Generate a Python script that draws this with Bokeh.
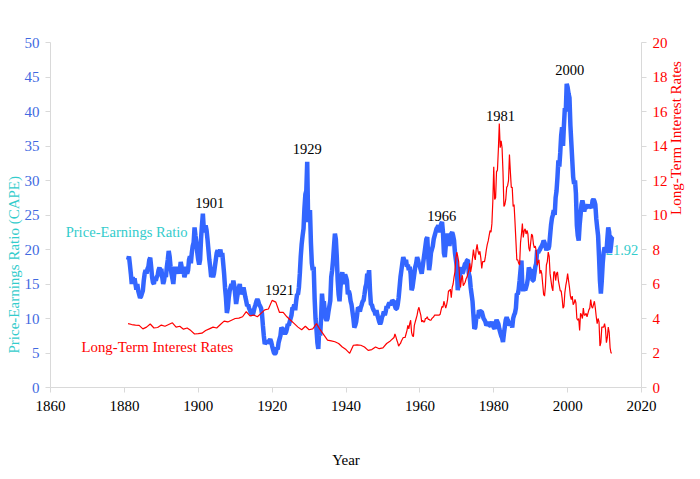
import math
from bokeh.plotting import figure
from bokeh.models import Range1d, LinearAxis, Label, FixedTicker, Title
from bokeh.embed import file_html
from bokeh.resources import INLINE

# ---------------- data ----------------
cape_start = 1881.0  # quarterly values
cape_values = [
    18.5, 19.0, 17.8, 16.5,  15.0, 16.0, 15.2, 15.8,  15.0, 14.2, 15.0, 14.0,
    13.5, 13.0, 13.2, 13.6,  14.0, 15.5, 16.5, 17.0,  16.5, 17.2, 17.5, 18.5,
    18.8, 17.5, 16.0, 15.2,  15.0, 16.0, 15.5, 16.0,  16.2, 17.0, 17.4, 16.8,
    17.2, 16.0, 15.0, 15.5,  16.5, 16.0, 17.5, 18.5,  19.8, 19.0, 17.5, 16.5,
    15.8, 15.0, 16.5, 17.5,  16.5, 17.0, 16.5, 17.5,  17.0, 18.2, 17.5, 16.5,
    17.0, 16.0, 16.5, 17.5,  16.5, 17.0, 18.5, 19.0,  18.0, 19.5, 20.5, 21.0,
    23.2, 22.0, 21.0, 19.5,  18.5, 17.8, 18.5, 21.5,  23.5, 25.2, 23.0, 22.5,
    23.5, 22.8, 21.5, 20.0,  18.5, 17.4, 16.0, 16.5,  16.0, 16.5, 17.5, 18.5,
    19.5, 19.9, 19.0, 19.5,  20.0, 18.9, 19.5, 18.0,  16.5, 14.5, 13.0, 10.8,
    11.5, 13.0, 14.0, 14.5,  15.0, 14.5, 15.5, 14.8,  13.5, 12.1, 13.0, 13.8,
    14.5, 15.0, 13.5, 14.0,  14.0, 14.5, 13.8, 13.1,  12.5, 11.8, 12.0, 11.5,
    11.2, 10.8, 10.7, 10.5,  11.0, 11.6, 12.0, 12.5,  12.8, 12.5, 12.0, 11.8,
    11.5, 10.7, 9.0, 7.5,    6.3, 6.5, 6.8, 6.4,      6.6, 6.8, 7.0, 6.6,
    6.0, 5.5, 5.0, 4.9,      5.0, 5.8, 5.5, 6.5,      7.0, 7.5, 8.7, 8.5,
    8.5, 8.0, 7.8, 8.0,      8.5, 9.2, 9.0, 9.5,      10.0, 10.5, 11.6, 11.5,
    12.0, 11.2, 12.5, 13.5,  13.5, 14.5, 16.5, 19.0,  20.8, 22.0, 23.0, 26.0,
    28.0, 28.5, 32.7, 24.0,  24.5, 25.7, 21.0, 18.0,  17.0, 17.5, 13.0, 10.0,
    8.5, 6.5, 5.6, 8.5,      7.5, 10.0, 13.6, 12.0,   12.5, 11.0, 10.0, 9.7,
    10.0, 11.0, 11.8, 12.6,  16.0, 17.0, 18.5, 20.5,  22.3, 21.5, 19.0, 15.5,
    13.5, 12.5, 14.5, 16.0,  16.7, 15.0, 15.5, 16.4,  16.0, 15.5, 13.5, 14.0,
    13.5, 12.5, 12.0, 11.0,  10.0, 8.7, 9.0, 9.5,     10.5, 11.6, 11.5, 11.0,
    11.6, 12.0, 12.5, 12.6,  13.5, 14.5, 15.0, 16.5,  16.0, 17.0, 14.0, 12.0,
    12.0, 11.5, 11.2, 11.0,  10.5, 11.2, 10.5, 10.0,  9.5, 9.2, 9.5, 10.2,
    10.5, 11.0, 10.5, 11.0,  11.8, 11.5, 12.0, 12.3,  12.0, 12.2, 12.6, 12.5,
    12.5, 11.8, 11.4, 11.4,  12.0, 13.0, 14.5, 16.0,  17.0, 18.0, 18.9, 18.5,
    18.0, 18.5, 17.5, 17.8,  17.0, 17.5, 16.5, 14.1,  14.5, 15.5, 16.5, 17.5,
    18.0, 18.9, 18.5, 17.8,  17.5, 17.0, 16.5, 17.5,  18.5, 19.5, 20.5, 21.5,
    21.8, 19.0, 17.0, 18.0,  19.5, 20.0, 20.5, 21.5,  22.0, 22.5, 23.0, 23.2,
    23.5, 23.0, 22.5, 23.7,  24.0, 22.5, 19.5, 18.9,  20.5, 21.5, 22.3, 21.5,
    20.5, 21.5, 22.3, 22.5,  22.0, 21.3, 19.5, 18.5,  17.5, 14.1, 15.0, 16.0,
    17.0, 17.4, 16.5, 16.8,  17.5, 18.0, 18.0, 18.4,  18.5, 16.5, 16.0, 14.5,
    13.5, 12.5, 10.5, 8.5,   8.7, 10.0, 10.5, 10.0,   11.2, 11.0, 11.0, 11.0,
    10.5, 10.0, 9.8, 9.5,    9.0, 9.2, 9.5, 9.0,      9.0, 9.2, 9.5, 9.0,
    8.7, 8.5, 9.3, 9.8,      9.5, 9.2, 8.5, 8.0,      7.5, 7.2, 6.6, 7.8,
    8.8, 9.8, 10.2, 9.8,     9.5, 9.0, 9.2, 9.3,      8.7, 10.0, 10.5, 10.8,
    11.5, 13.6, 13.5, 14.2,  15.5, 17.0, 18.4, 14.5,  14.0, 14.5, 14.1, 14.5,
    15.0, 15.8, 17.4, 17.0,  17.0, 16.8, 15.5, 15.5,  16.5, 17.5, 18.0, 19.9,
    19.5, 19.8, 20.0, 20.3,  20.5, 20.8, 21.3, 21.0,  20.5, 19.9, 20.2, 20.0,
    20.5, 22.0, 23.5, 24.5,  25.0, 25.7, 25.0, 27.5,  28.5, 30.5, 32.9, 32.0,
    34.0, 36.5, 37.7, 35.0,  38.0, 40.5, 40.0, 44.0,  43.5, 42.6, 42.0, 38.0,
    35.5, 33.0, 30.5, 29.5,  30.0, 28.1, 23.5, 22.0,  21.3, 23.5, 25.0, 26.5,
    27.1, 26.5, 25.5, 26.2,  26.0, 26.2, 26.5, 26.0,  26.5, 26.2, 26.0, 27.1,
    27.3, 27.0, 26.5, 24.5,  23.2, 22.0, 19.0, 15.5,  13.6, 15.5, 18.0, 19.5,
    20.3, 20.0, 19.5, 21.5,  23.2, 22.5, 19.5, 20.5,  21.8, 21.92,
]

rate_annual_start = 1881  # annual values 1881-1952
rate_annual = [
    3.70, 3.65, 3.62, 3.60, 3.40, 3.50, 3.68, 3.45, 3.48, 3.62,
    3.55, 3.65, 3.75, 3.50, 3.55, 3.38, 3.45, 3.30, 3.10, 3.12,
    3.15, 3.30, 3.40, 3.50, 3.45, 3.65, 3.85, 3.80, 3.90, 4.00,
    4.02, 4.10, 4.40, 4.15, 4.20, 4.10, 4.30, 4.50, 4.55, 5.05,
    4.95, 4.35, 4.35, 4.10, 3.90, 3.70, 3.50, 3.35, 3.55, 3.35,
    3.40, 3.70, 3.35, 3.05, 2.75, 2.70, 2.65, 2.55, 2.35, 2.20,
    1.98, 2.45, 2.47, 2.45, 2.35, 2.15, 2.20, 2.35, 2.25, 2.30,
    2.55, 2.70,
]
rate_quarterly_start = 1953.0  # quarterly values 1953-2012
rate_quarterly = [
    2.9, 3.1, 2.95, 2.75,  2.6, 2.4, 2.5, 2.55,  2.7, 2.8, 2.9, 2.9,
    2.9, 3.1, 3.3, 3.6,    3.4, 3.7, 3.9, 3.2,   3.0, 2.95, 3.6, 3.8,
    4.0, 4.2, 4.5, 4.65,   4.4, 4.2, 3.8, 3.9,   3.8, 3.8, 4.0, 4.0,
    4.1, 3.95, 3.95, 3.9,  3.9, 4.0, 4.05, 4.1,  4.2, 4.2, 4.2, 4.2,
    4.2, 4.2, 4.25, 4.5,   4.7, 4.65, 5.0, 4.8,  4.6, 4.8, 5.1, 5.6,
    5.6, 5.7, 5.2, 5.8,    6.0, 6.4, 6.7, 7.5,   7.85, 7.6, 7.3, 6.4,
    5.8, 6.3, 6.5, 5.9,    6.0, 6.1, 6.3, 6.4,   6.6, 6.8, 7.2, 6.7,
    7.0, 7.5, 8.0, 7.6,    7.4, 8.0, 8.3, 7.9,   7.7, 7.9, 7.5, 6.9,
    7.3, 7.3, 7.3, 7.6,    8.0, 8.3, 8.5, 8.8,   9.1, 9.0, 9.5, 10.8,
    12.8, 10.9, 11.0, 12.5, 12.6, 13.8, 15.3, 13.9, 14.3, 13.9, 12.5, 10.5,
    10.6, 10.9, 11.6, 11.7, 12.0, 13.5, 12.5, 11.6, 11.6, 10.5, 10.6, 9.6,
    8.5, 7.4, 7.4, 7.2,    7.1, 8.4, 8.9, 9.5,   8.7, 9.1, 9.2, 8.9,
    9.1, 8.9, 8.1, 7.9,    8.4, 8.9, 8.8, 8.3,   8.1, 8.2, 7.9, 7.1,
    7.3, 7.4, 6.6, 6.8,    6.6, 6.0, 5.4, 5.3,   5.9, 7.1, 7.3, 7.85,
    7.6, 6.6, 6.2, 5.8,    5.6, 6.7, 6.7, 6.2,   6.6, 6.7, 6.2, 5.9,
    5.6, 5.6, 5.2, 4.6,    4.7, 5.5, 5.9, 6.2,   6.6, 6.2, 5.8, 5.3,
    5.1, 5.3, 4.8, 4.9,    5.1, 4.9, 4.0, 3.9,   4.0, 3.3, 4.3, 4.2,
    4.0, 4.6, 4.2, 4.2,    4.3, 4.1, 4.3, 4.5,   4.6, 5.1, 4.7, 4.6,
    4.8, 5.0, 4.6, 4.1,    3.7, 4.0, 3.8, 2.4,   2.6, 3.5, 3.5, 3.5,
    3.7, 3.4, 2.6, 2.9,    3.5, 3.2, 2.3, 2.0,   2.0,
]

peak_years = [1901, 1921, 1929, 1966, 1981, 2000]
peak_label_x = [1903.1, 1922.0, 1929.5, 1965.9, 1981.8, 2000.6]
peak_label_y = [26.7, 14.1, 34.5, 24.8, 39.4, 46.0]

x_ticks = [1860, 1880, 1900, 1920, 1940, 1960, 1980, 2000, 2020]
left_ticks = [0, 5, 10, 15, 20, 25, 30, 35, 40, 45, 50]
right_ticks = [0, 2, 4, 6, 8, 10, 12, 14, 16, 18, 20]
last_value_label = "21.92"

# ---------------- derived x positions ----------------
cape_x = [cape_start + i * 0.25 for i in range(len(cape_values))]
rate_x = [rate_annual_start + i for i in range(len(rate_annual))] + \
         [rate_quarterly_start + i * 0.25 for i in range(len(rate_quarterly))]
rate_y = rate_annual + rate_quarterly

SERIF = "Liberation Serif"
AXIS_SERIF = "'Liberation Serif'"
BLUE_LINE = "#3366ff"
BLUE_TXT = "#4169e1"
RED = "#ff0000"
CYAN = "#33cccc"
GRAY = "#d9d9d9"

p = figure(width=700, height=479, output_backend="svg", toolbar_location=None,
           x_range=Range1d(1860, 2020), y_range=Range1d(0, 50),
           min_border_left=50, min_border_right=59, min_border_top=42,
           min_border_bottom=92)
p.extra_y_ranges = {"rate": Range1d(0, 20)}
p.outline_line_color = None
p.grid.visible = False
p.background_fill_color = "white"
p.border_fill_color = "white"

def style_axis(ax, color):
    ax.axis_line_color = GRAY
    ax.major_tick_line_color = GRAY
    ax.minor_tick_line_color = None
    ax.major_tick_out = 5
    ax.major_tick_in = 0
    ax.major_label_text_font = AXIS_SERIF
    ax.major_label_text_font_size = "15px"
    ax.major_label_text_color = color
    ax.major_label_standoff = 6

xax = p.xaxis[0]
style_axis(xax, "black")
xax.ticker = FixedTicker(ticks=x_ticks)
xax.major_label_standoff = 8
xax.axis_label = "Year"
xax.axis_label_text_font = AXIS_SERIF
xax.axis_label_text_font_style = "normal"
xax.axis_label_text_font_size = "15px"
xax.axis_label_text_color = "black"
xax.axis_label_standoff = 38

style_axis(p.yaxis[0], BLUE_TXT)
p.yaxis[0].ticker = FixedTicker(ticks=left_ticks)

right = LinearAxis(y_range_name="rate")
style_axis(right, RED)
right.ticker = FixedTicker(ticks=right_ticks)
right.axis_label = "Long-Term Interest Rates"
right.axis_label_text_font = AXIS_SERIF
right.axis_label_text_font_style = "normal"
right.axis_label_text_font_size = "15px"
right.axis_label_text_color = RED
right.axis_label_standoff = 5
right.axis_label_orientation = math.pi / 2
p.add_layout(right, "right")

# last-value label (under the line)
p.add_layout(Label(x=2010.3, y=20.0, text=last_value_label, text_font=SERIF,
                   text_font_size="14.5px", text_color=CYAN,
                   text_align="left", text_baseline="middle", level="underlay"))

p.line(cape_x, cape_values, line_color=BLUE_LINE, line_width=4.5)
p.line(rate_x, [r * 2.5 for r in rate_y], line_color=RED, line_width=1.2)

for lbl, lx, ly in zip(peak_years, peak_label_x, peak_label_y):
    p.add_layout(Label(x=lx, y=ly, text=str(lbl), text_font=SERIF,
                       text_font_size="14.5px", text_color="black",
                       text_align="center", text_baseline="middle"))

p.add_layout(Label(x=1864.1, y=22.5, text="Price-Earnings Ratio", text_font=SERIF,
                   text_font_size="14.6px", text_color=CYAN,
                   text_align="left", text_baseline="middle"))
p.add_layout(Label(x=1868.4, y=5.85, text="Long-Term Interest Rates", text_font=SERIF,
                   text_font_size="14.8px", text_color=RED,
                   text_align="left", text_baseline="middle"))

# left axis title (offset from the bottom of the frame, as in the reference)
p.add_layout(Title(text="Price-Earnings Ratio (CAPE)", align="left", offset=34,
                   standoff=0, text_font=SERIF, text_font_size="15px",
                   text_color=CYAN, text_font_style="normal"), "left")

open("out.html", "w").write(file_html(p, INLINE))
